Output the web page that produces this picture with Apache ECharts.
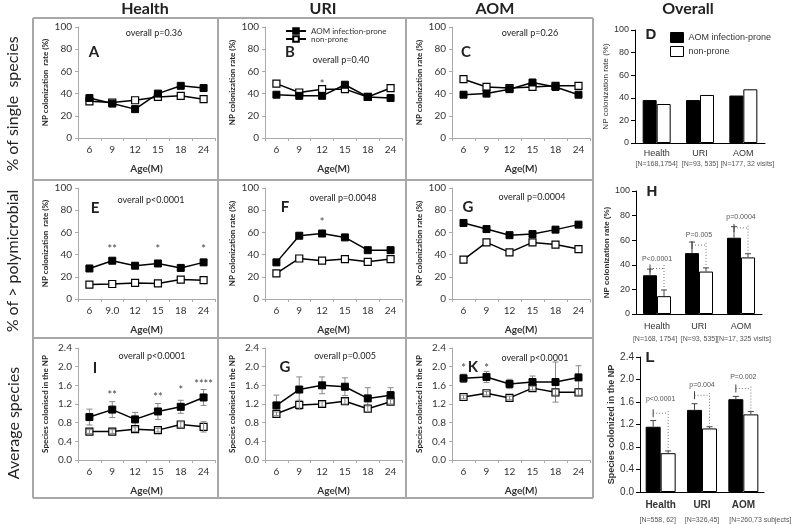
<!DOCTYPE html>
<html><head><meta charset="utf-8">
<script src="https://cdn.jsdelivr.net/npm/echarts@6/dist/echarts.min.js"></script>
<style>html,body{margin:0;padding:0;background:#fff}#c{width:800px;height:524px}</style>
</head><body><div id="c"></div>
<script>
// ---------- data ----------
const ages = ['6','9','12','15','18','24'];
const agesE = ['6','9.0','12','15','18','24'];
const groups = ['Health','URI','AOM'];
const nD = ['[N=168,1754]','[N=93, 535]','[N=177, 32 visits]'];
const nH = ['[N=168, 1754]','[N=93, 535]','[N=17, 325 visits]'];
const nL = ['[N=558, 62]','[N=326,45]','[N=260,73 subjects]'];

const A_prone = [36, 31, 26, 40, 47, 45];
const A_non   = [33, 32, 34, 37, 38, 35];
const B_prone = [39, 38, 38, 48, 37, 36];
const B_non   = [49, 41, 44, 44, 37, 45];
const C_prone = [39, 40, 44, 50, 46, 39];
const C_non   = [53, 46, 45, 46, 47, 47];

const E_prone = [27.5, 34.5, 30, 32, 28, 33];
const E_non   = [13, 13.5, 14.5, 14, 17.5, 17];
const F_prone = [33, 57, 59, 55.5, 44, 44];
const F_non   = [23, 36.5, 34.5, 36, 33.5, 36];
const G_prone = [68.5, 63, 57.5, 58.5, 62.5, 67];
const G_non   = [35.5, 51, 42, 51, 49, 45];

const I_prone = [0.92, 1.08, 0.87, 1.04, 1.14, 1.34];
const I_proneErr = [0.17, 0.17, 0.15, 0.17, 0.14, 0.17];
const I_non   = [0.61, 0.61, 0.66, 0.64, 0.76, 0.71];
const I_nonErr = [0.04, 0.04, 0.05, 0.04, 0.06, 0.11];
const J_prone = [1.17, 1.51, 1.60, 1.57, 1.32, 1.39];
const J_proneErr = [0.22, 0.27, 0.18, 0.19, 0.23, 0.16];
const J_non   = [0.99, 1.18, 1.20, 1.26, 1.10, 1.25];
const J_nonErr = [0.04, 0.10, 0.05, 0.06, 0.06, 0.05];
const K_prone = [1.75, 1.78, 1.63, 1.67, 1.67, 1.77];
const K_proneErr = [0.09, 0.12, 0.10, 0.13, 0.43, 0.25];
const K_non   = [1.35, 1.43, 1.33, 1.54, 1.45, 1.45];
const K_nonErr = [0.04, 0.04, 0.04, 0.04, 0.06, 0.06];

const D_prone = [38, 38, 42];
const D_non   = [34.5, 42.5, 47.5];
const H_prone = [31.5, 49.5, 62];
const H_proneErr = [5, 9, 9];
const H_non   = [14.5, 34.5, 46];
const H_nonErr = [5, 3, 3];
const H_dotTop = [41, 59, 73];
const H_bracket = [37, 56, 70];
const H_labelY = [45, 64, 79];
const H_labels = ['P<0.0001','P=0.005','p=0.0004'];
const L_prone = [1.16, 1.46, 1.65];
const L_proneErr = [0.11, 0.11, 0.05];
const L_non   = [0.69, 1.13, 1.38];
const L_nonErr = [0.04, 0.03, 0.05];
const L_dotTop = [1.45, 1.76, 1.88];
const L_bracket = [1.40, 1.72, 1.84];
const L_labelY = [1.65, 1.91, 2.04];
const L_labels = ['p<0.0001','p=0.004','P=0.002'];

// significance stars: [category index, y value, text]
const B_stars = [[2, 48.5, '*']];
const E_stars = [[1, 45, '**'], [3, 45, '*'], [5, 45, '*']];
const F_stars = [[2, 69, '*']];
const I_stars = [[1, 1.39, '**'], [3, 1.35, '**'], [4, 1.48, '*'], [5, 1.61, '****']];
const K_stars = [[0, 1.97, '*'], [1, 1.97, '*']];

// ---------- build ----------
const FONT = 'Lato, "Liberation Sans", sans-serif';
const AFONT = '"Liberation Sans", Arial, sans-serif';
const grid = [], xAxis = [], yAxis = [], series = [];
const PRONE = 'AOM infection-prone', NON = 'non-prone';

function errSeries(gi, vals, errs, color, z) {
  return {
    type: 'custom', xAxisIndex: gi, yAxisIndex: gi, z: z, silent: true,
    data: vals.map((v, i) => [i, v, errs[i]]),
    renderItem: function (params, api) {
      const x = api.value(0), y = api.value(1), e = api.value(2);
      const hi = api.coord([x, y + e]), lo = api.coord([x, y - e]);
      const w = 3, st = {stroke: color, lineWidth: 1};
      return {type: 'group', children: [
        {type: 'line', shape: {x1: hi[0], y1: hi[1], x2: lo[0], y2: lo[1]}, style: st},
        {type: 'line', shape: {x1: hi[0] - w, y1: hi[1], x2: hi[0] + w, y2: hi[1]}, style: st},
        {type: 'line', shape: {x1: lo[0] - w, y1: lo[1], x2: lo[0] + w, y2: lo[1]}, style: st}
      ]};
    }
  };
}
function starSeries(gi, stars) {
  return {
    type: 'custom', xAxisIndex: gi, yAxisIndex: gi, z: 5, silent: true,
    data: stars.map(s => [s[0], s[1]]),
    renderItem: function (params, api) {
      const p = api.coord([api.value(0), api.value(1)]);
      return {type: 'text', x: p[0], y: p[1], style: {text: stars[params.dataIndex][2], fill: '#444',
        font: '11px ' + FONT, align: 'center', verticalAlign: 'middle'}};
    }
  };
}

function linePanel(o) {
  const gi = grid.length;
  grid.push({left: o.l, top: o.t, width: o.w, height: o.h});
  xAxis.push({type: 'category', gridIndex: gi, data: o.cats, boundaryGap: true,
    name: 'Age(M)', nameLocation: 'middle', nameGap: 26,
    nameTextStyle: {fontFamily: FONT, fontSize: 10, fontWeight: 'bold', color: '#333'},
    axisLine: {lineStyle: {color: '#aaa'}}, axisTick: {show: true, length: 3, lineStyle: {color: '#aaa'}},
    axisLabel: {fontFamily: FONT, fontSize: 10, color: '#333', margin: 7, interval: 0}, splitLine: {show: false}});
  yAxis.push({type: 'value', gridIndex: gi, min: 0, max: o.max, interval: o.interval,
    name: o.yname, nameLocation: 'middle', nameGap: 29,
    nameTextStyle: {fontFamily: FONT, fontSize: 8, fontWeight: 'bold', color: '#222'},
    axisLine: {show: true, lineStyle: {color: '#aaa'}}, axisTick: {show: true, length: 3, lineStyle: {color: '#aaa'}},
    axisLabel: {fontFamily: FONT, fontSize: 10, color: '#333', margin: 6, formatter: o.fmt}, splitLine: {show: false}});
  if (o.nonErr) series.push(errSeries(gi, o.non, o.nonErr, '#888', 4));
  if (o.proneErr) series.push(errSeries(gi, o.prone, o.proneErr, '#888', 1));
  series.push({type: 'line', name: PRONE, xAxisIndex: gi, yAxisIndex: gi, data: o.prone, z: 3,
    symbol: 'rect', symbolSize: 7, showAllSymbol: true,
    lineStyle: {color: '#000', width: 1.5}, itemStyle: {color: '#000', borderColor: '#000', borderWidth: 1}});
  series.push({type: 'line', name: NON, xAxisIndex: gi, yAxisIndex: gi, data: o.non, z: 2,
    symbol: 'rect', symbolSize: 7, showAllSymbol: true,
    lineStyle: {color: '#000', width: 1.5}, itemStyle: {color: '#fff', borderColor: '#000', borderWidth: 1.2}});
  if (o.stars) series.push(starSeries(gi, o.stars));
}

function barPanel(o) {
  const gi = grid.length;
  grid.push({left: o.l, top: o.t, width: o.w, height: o.h});
  xAxis.push({type: 'category', gridIndex: gi, data: groups, boundaryGap: true,
    axisLine: {lineStyle: {color: '#000', width: 1}}, axisTick: {show: false},
    axisLabel: {interval: 0, margin: o.margin, color: '#333',
      formatter: function (v, i) { return '{a|' + v + '}\n{' + (o.shift && o.shift[i] ? 's' + i : 'b') + '|' + o.nlab[i] + '}'; },
      rich: Object.assign({
        a: {fontFamily: AFONT, fontSize: o.catSize, fontWeight: o.catWeight, color: '#333', lineHeight: o.lh},
        b: {fontFamily: AFONT, fontSize: 7, color: '#555', lineHeight: o.lh}},
        (o.shift || []).reduce((acc, s, i) => { if (s) acc['s' + i] = {fontFamily: AFONT, fontSize: 7, color: '#555', lineHeight: o.lh,
          padding: s > 0 ? [0, 0, 0, 2 * s] : [0, -2 * s, 0, 0]}; return acc; }, {}))},
    splitLine: {show: false}});
  yAxis.push({type: 'value', gridIndex: gi, min: 0, max: o.max, interval: o.interval,
    name: o.yname, nameLocation: 'middle', nameGap: o.nameGap,
    nameTextStyle: {fontFamily: AFONT, fontSize: o.nameSize, fontWeight: o.nameWeight, color: '#333'},
    axisLine: {show: true, lineStyle: {color: '#000'}}, axisTick: {show: true, length: 4, lineStyle: {color: '#000'}},
    axisLabel: {fontFamily: AFONT, fontSize: o.labSize, color: '#333', margin: 6, formatter: o.fmt}, splitLine: {show: false}});
  series.push({type: 'bar', name: PRONE, xAxisIndex: gi, yAxisIndex: gi, data: o.prone, barWidth: o.bw, barGap: '0%',
    itemStyle: {color: '#000', borderColor: '#000', borderWidth: 1}});
  series.push({type: 'bar', name: NON, xAxisIndex: gi, yAxisIndex: gi, data: o.non, barWidth: o.bw, barGap: '0%',
    itemStyle: {color: '#fff', borderColor: '#000', borderWidth: 1}});
  if (o.ann) {
    const a = o.ann, bw = o.bw;
    series.push({type: 'custom', xAxisIndex: gi, yAxisIndex: gi, z: 5, silent: true,
      data: groups.map((g, i) => [i, a.prone[i], a.proneErr[i], a.non[i], a.nonErr[i], a.dotTop[i], a.bracket[i], a.labelY[i]]),
      renderItem: function (params, api) {
        const c = api.value(0);
        const cx = api.coord([c, 0])[0];
        const xf = cx - bw / 2, xo = cx + bw / 2;
        const Y = v => api.coord([c, v])[1];
        const p = api.value(1), pe = api.value(2), n = api.value(3), ne = api.value(4),
              dt = api.value(5), br = api.value(6), ly = api.value(7);
        const solid = {stroke: '#444', lineWidth: 1};
        const dot = {stroke: '#777', lineWidth: 1, lineDash: [1, 2]};
        return {type: 'group', children: [
          {type: 'line', shape: {x1: xf, y1: Y(p), x2: xf, y2: Y(p + pe)}, style: solid},
          {type: 'line', shape: {x1: xf - 3, y1: Y(p + pe), x2: xf + 3, y2: Y(p + pe)}, style: solid},
          {type: 'line', shape: {x1: xo, y1: Y(n), x2: xo, y2: Y(n + ne)}, style: solid},
          {type: 'line', shape: {x1: xo - 3, y1: Y(n + ne), x2: xo + 3, y2: Y(n + ne)}, style: solid},
          {type: 'line', shape: {x1: xo, y1: Y(n + ne), x2: xo, y2: Y(dt)}, style: dot},
          {type: 'line', shape: {x1: xf, y1: Y(br), x2: xo, y2: Y(br)}, style: dot},
          {type: 'line', shape: {x1: xf, y1: Y(br) - 4, x2: xf, y2: Y(br) + 4}, style: solid},
          {type: 'text', x: cx, y: Y(ly), style: {text: a.labels[params.dataIndex], fill: '#555',
            font: '7px ' + AFONT, align: 'center', verticalAlign: 'middle'}}
        ]};
      }
    });
  }
}

const NPY = 'NP colonization  rate (%)';
const NPY2 = 'NP colonization rate (%)';
const SPY = 'Species colonised in the NP';
const f1 = v => v.toFixed(1);
const C1 = {l: 78, w: 137}, C2 = {l: 265, w: 137}, C3 = {l: 452, w: 138};
const R1 = {t: 27, h: 111}, R2 = {t: 188, h: 111}, R3 = {t: 348, h: 112};

linePanel({l: C1.l, w: C1.w, t: R1.t, h: R1.h, cats: ages, prone: A_prone, non: A_non, max: 100, interval: 20, yname: NPY});
linePanel({l: C2.l, w: C2.w, t: R1.t, h: R1.h, cats: ages, prone: B_prone, non: B_non, max: 100, interval: 20, yname: NPY2, stars: B_stars});
linePanel({l: C3.l, w: C3.w, t: R1.t, h: R1.h, cats: ages, prone: C_prone, non: C_non, max: 100, interval: 20, yname: NPY2});
linePanel({l: C1.l, w: C1.w, t: R2.t, h: R2.h, cats: agesE, prone: E_prone, non: E_non, max: 100, interval: 20, yname: NPY, stars: E_stars});
linePanel({l: C2.l, w: C2.w, t: R2.t, h: R2.h, cats: ages, prone: F_prone, non: F_non, max: 100, interval: 20, yname: NPY2, stars: F_stars});
linePanel({l: C3.l, w: C3.w, t: R2.t, h: R2.h, cats: ages, prone: G_prone, non: G_non, max: 100, interval: 20, yname: NPY2});
linePanel({l: C1.l, w: C1.w, t: R3.t, h: R3.h, cats: ages, prone: I_prone, non: I_non, proneErr: I_proneErr, nonErr: I_nonErr, max: 2.4, interval: 0.4, yname: SPY, fmt: f1, stars: I_stars});
linePanel({l: C2.l, w: C2.w, t: R3.t, h: R3.h, cats: ages, prone: J_prone, non: J_non, proneErr: J_proneErr, nonErr: J_nonErr, max: 2.4, interval: 0.4, yname: SPY, fmt: f1});
linePanel({l: C3.l, w: C3.w, t: R3.t, h: R3.h, cats: ages, prone: K_prone, non: K_non, proneErr: K_proneErr, nonErr: K_nonErr, max: 2.4, interval: 0.4, yname: SPY, fmt: f1, stars: K_stars});

barPanel({l: 635, w: 130, t: 30, h: 113, prone: D_prone, non: D_non, bw: 14, max: 100, interval: 20,
  yname: NPY2, nameGap: 20, nameSize: 8, nameWeight: 'normal', labSize: 9, nlab: nD, catSize: 9, catWeight: 'normal', lh: 10, margin: 6,
  shift: [0, 0, 4]});
barPanel({l: 636, w: 126, t: 191, h: 123, prone: H_prone, non: H_non, bw: 14, max: 100, interval: 20,
  yname: NPY2, nameGap: 22, nameSize: 8, nameWeight: 'bold', labSize: 9, nlab: nH, catSize: 9, catWeight: 'normal', lh: 13, margin: 6,
  shift: [-2, 0, 3],
  ann: {prone: H_prone, proneErr: H_proneErr, non: H_non, nonErr: H_nonErr, dotTop: H_dotTop, bracket: H_bracket, labelY: H_labelY, labels: H_labels}});
barPanel({l: 640, w: 124, t: 357, h: 135, prone: L_prone, non: L_non, bw: 15, max: 2.4, interval: 0.4, fmt: f1,
  yname: 'Species colonized in the NP', nameGap: 24, nameSize: 9, nameWeight: 'bold', labSize: 10, nlab: nL, catSize: 10, catWeight: 'bold', lh: 15, margin: 6,
  shift: [-3, 0, 17],
  ann: {prone: L_prone, proneErr: L_proneErr, non: L_non, nonErr: L_nonErr, dotTop: L_dotTop, bracket: L_bracket, labelY: L_labelY, labels: L_labels}});

// ---------- decorations ----------
const G = [];
const border = {stroke: '#a8a8a8', lineWidth: 2};
[18, 180, 338, 498].forEach(y => G.push({type: 'line', shape: {x1: 33, y1: y, x2: 593, y2: y}, style: border}));
[33, 218, 406, 593].forEach(x => G.push({type: 'line', shape: {x1: x, y1: 18, x2: x, y2: 498}, style: border}));
function txt(x, y, s, font, extra) {
  G.push(Object.assign({type: 'text', x: x, y: y, style: {text: s, font: font, fill: '#222', align: 'center', verticalAlign: 'middle'}}, extra || {}));
}
const TF = 'bold 16px ' + FONT;
txt(145, 9, 'Health', TF); txt(323, 9, 'URI', TF); txt(495, 9, 'AOM', TF); txt(688, 9, 'Overall', TF);
const RF = '16px ' + FONT;
txt(13, 104, '% of single  species', RF, {rotation: Math.PI / 2});
txt(13, 261, '% of > polymicrobial', RF, {rotation: Math.PI / 2});
txt(14, 423, 'Average species', RF, {rotation: Math.PI / 2});
const LF = 'bold 15px ' + FONT;
txt(94, 52, 'A', LF); txt(290, 52, 'B', LF); txt(466, 52, 'C', LF); txt(651, 35, 'D', 'bold 15px ' + AFONT);
txt(95, 208, 'E', LF); txt(285, 207, 'F', LF); txt(468, 207, 'G', LF); txt(652, 192, 'H', 'bold 15px ' + AFONT);
txt(95, 368, 'I', LF); txt(285, 367, 'G', LF); txt(473, 367, 'K', LF); txt(650, 358, 'L', 'bold 15px ' + AFONT);
const PF = '9px ' + FONT;
txt(154, 33, 'overall p=0.36', PF); txt(341, 60, 'overall p=0.40', PF); txt(530, 33, 'overall p=0.26', PF);
txt(151, 200, 'overall p<0.0001', PF); txt(343, 198, 'overall p=0.0048', PF); txt(532, 197, 'overall p=0.0004', PF);
txt(152, 356, 'overall p<0.0001', PF); txt(345, 356, 'overall p=0.005', PF); txt(535, 358, 'overall p<0.0001', PF);

const chart = echarts.init(document.getElementById('c'));
chart.setOption({
  animation: false,
  grid: grid, xAxis: xAxis, yAxis: yAxis, series: series,
  legend: [
    {left: 280, top: 22, orient: 'vertical', itemGap: 0, itemWidth: 20, itemHeight: 7, selectedMode: false,
     textStyle: {fontFamily: FONT, fontSize: 8, color: '#333'}, data: [PRONE, NON]},
    {left: 665, top: 27, orient: 'vertical', itemGap: 3, itemWidth: 13, itemHeight: 10, selectedMode: false,
     textStyle: {fontFamily: AFONT, fontSize: 9, color: '#333'},
     data: [{name: PRONE, icon: 'rect', itemStyle: {color: '#000', borderColor: '#000', borderWidth: 1}},
            {name: NON, icon: 'rect', itemStyle: {color: '#fff', borderColor: '#000', borderWidth: 1}}]}
  ],
  graphic: G
});
</script></body></html>
